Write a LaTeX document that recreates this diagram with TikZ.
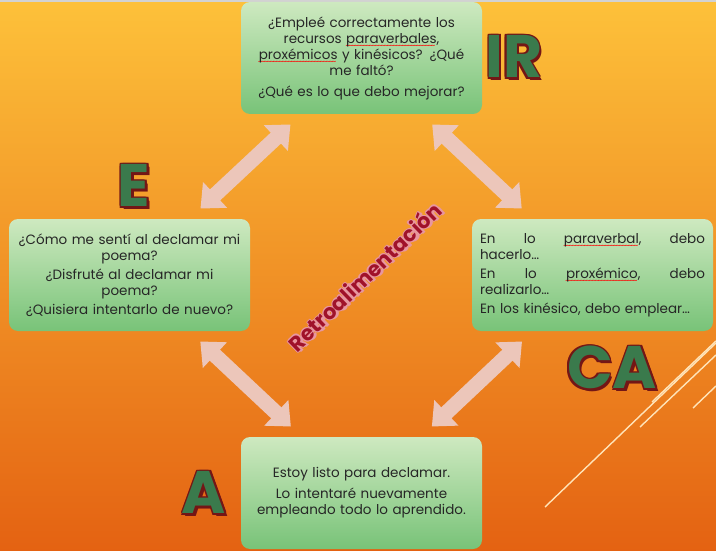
\documentclass[tikz,border=0pt]{standalone}
\usepackage{fontspec}
\setmainfont{Poppins}
\usetikzlibrary{arrows.meta, positioning}

\definecolor{bgtop}{RGB}{253,193,58}
\definecolor{bgmid}{RGB}{246,150,38}
\definecolor{bgbot}{RGB}{228,98,18}
\definecolor{boxtop}{RGB}{206,233,192}
\definecolor{boxbot}{RGB}{120,195,120}
\definecolor{arrowpink}{RGB}{236,198,186}
\definecolor{lettergreen}{RGB}{58,122,76}
\definecolor{letterred}{RGB}{115,22,22}
\definecolor{retrored}{RGB}{160,18,42}
\definecolor{retropink}{RGB}{232,150,160}
\definecolor{decoline}{RGB}{255,228,185}
\definecolor{textgray}{RGB}{38,38,38}

% red wavy spell-check underline
\newsavebox{\spellbox}
\newcommand{\spellmark}[1]{\leavevmode\sbox{\spellbox}{#1}\rlap{\raisebox{-5.2pt}{\color{red}\hbox to \wd\spellbox{\leaders\hbox{\fontsize{8}{8}\selectfont\kern-0.6pt\textasciitilde\kern-0.6pt}\hfill}}}\usebox{\spellbox}}
% outlined text from shifted copies
\newcommand{\copyat}[4]{\rlap{\kern#2\raisebox{#3}{\color{#1}#4}}}
\newcommand{\outlinetext}[3]{\leavevmode\copyat{#1}{2.4pt}{-2.4pt}{#3}%
  \copyat{#1}{#2}{0pt}{#3}\copyat{#1}{-#2}{0pt}{#3}\copyat{#1}{0pt}{#2}{#3}\copyat{#1}{0pt}{-#2}{#3}%
  \copyat{#1}{#2}{#2}{#3}\copyat{#1}{-#2}{-#2}{#3}\copyat{#1}{#2}{-#2}{#3}\copyat{#1}{-#2}{#2}{#3}#3}

\begin{document}
\begin{tikzpicture}[
    x=1pt, y=-1pt,
    font=\fontsize{13.5}{16}\selectfont,
    box/.style={rounded corners=9pt, top color=boxtop, bottom color=boxbot, minimum width=241pt, minimum height=112pt, text width=225pt, align=center, text=textgray, inner sep=0pt},
    jbox/.style={box, align=left},
    dblarr/.style={draw=arrowpink, line width=15pt, {Triangle[width=34pt,length=20pt]}-{Triangle[width=34pt,length=20pt]}, shorten <=15pt, shorten >=15pt},
    bigletter/.style={font=\fontsize{60}{60}\selectfont\bfseries, text=lettergreen, inner sep=0pt},
]

% background
\fill[top color=bgtop, middle color=bgmid, bottom color=bgbot] (0,0) rectangle (716,551);
\fill[gray!35] (0,0) rectangle (716,2);
\useasboundingbox (0,0) rectangle (716,551);

% decorative lines
\draw[decoline, line width=1.4pt] (545,507) -- (716,343);
\draw[decoline, line width=1.4pt] (640,427) -- (716,355);
\draw[decoline, line width=1.4pt] (652,402) -- (716,341);
\draw[decoline, line width=1.4pt] (693,408) -- (716,386);

% boxes
\node[box] (ir) at (361.5,58) {¿Empleé correctamente los\\ recursos \spellmark{paraverbales},\\ \spellmark{proxémicos} y kinésicos? ¿Qué\\ me faltó?\\[5pt] ¿Qué es lo que debo mejorar?};
\node[box] (e) at (129.5,275) {¿Cómo me sentí al declamar mi\\ poema?\\[3pt] ¿Disfruté al declamar mi\\ poema?\\[3pt] ¿Quisiera intentarlo de nuevo?};
\node[jbox] (ca) at (592.5,275) {En\hfill lo\hfill \spellmark{paraverbal},\hfill debo\\ hacerlo…\\[3pt] En\hfill lo\hfill \spellmark{proxémico},\hfill debo\\ realizarlo…\\[3pt] En los kinésico, debo emplear…};
\node[box] (a) at (361.5,493) {Estoy listo para declamar.\\[5pt] Lo intentaré nuevamente\\ empleando todo lo aprendido.};

% double arrows
\draw[dblarr] (e)  -- (ir);
\draw[dblarr] (ir) -- (ca);
\draw[dblarr] (e)  -- (a);
\draw[dblarr] (ca) -- (a);

% letters
\node[bigletter] (irl) at (514,57)  {\outlinetext{letterred}{1.5pt}{IR}};
\node[bigletter] (el)  at (134,186) {\outlinetext{letterred}{1.5pt}{E}};
\node[bigletter] (cal) at (612,368) {\outlinetext{letterred}{1.5pt}{CA}};
\node[bigletter] (al)  at (204,493) {\outlinetext{letterred}{1.5pt}{A}};

\node[rotate=44, font=\fontsize{21}{21}\selectfont\bfseries, text=retrored, inner sep=0pt] (retro) at (365,277) {\outlinetext{retropink}{0.8pt}{Retroalimentación}};

\end{tikzpicture}
\end{document}
